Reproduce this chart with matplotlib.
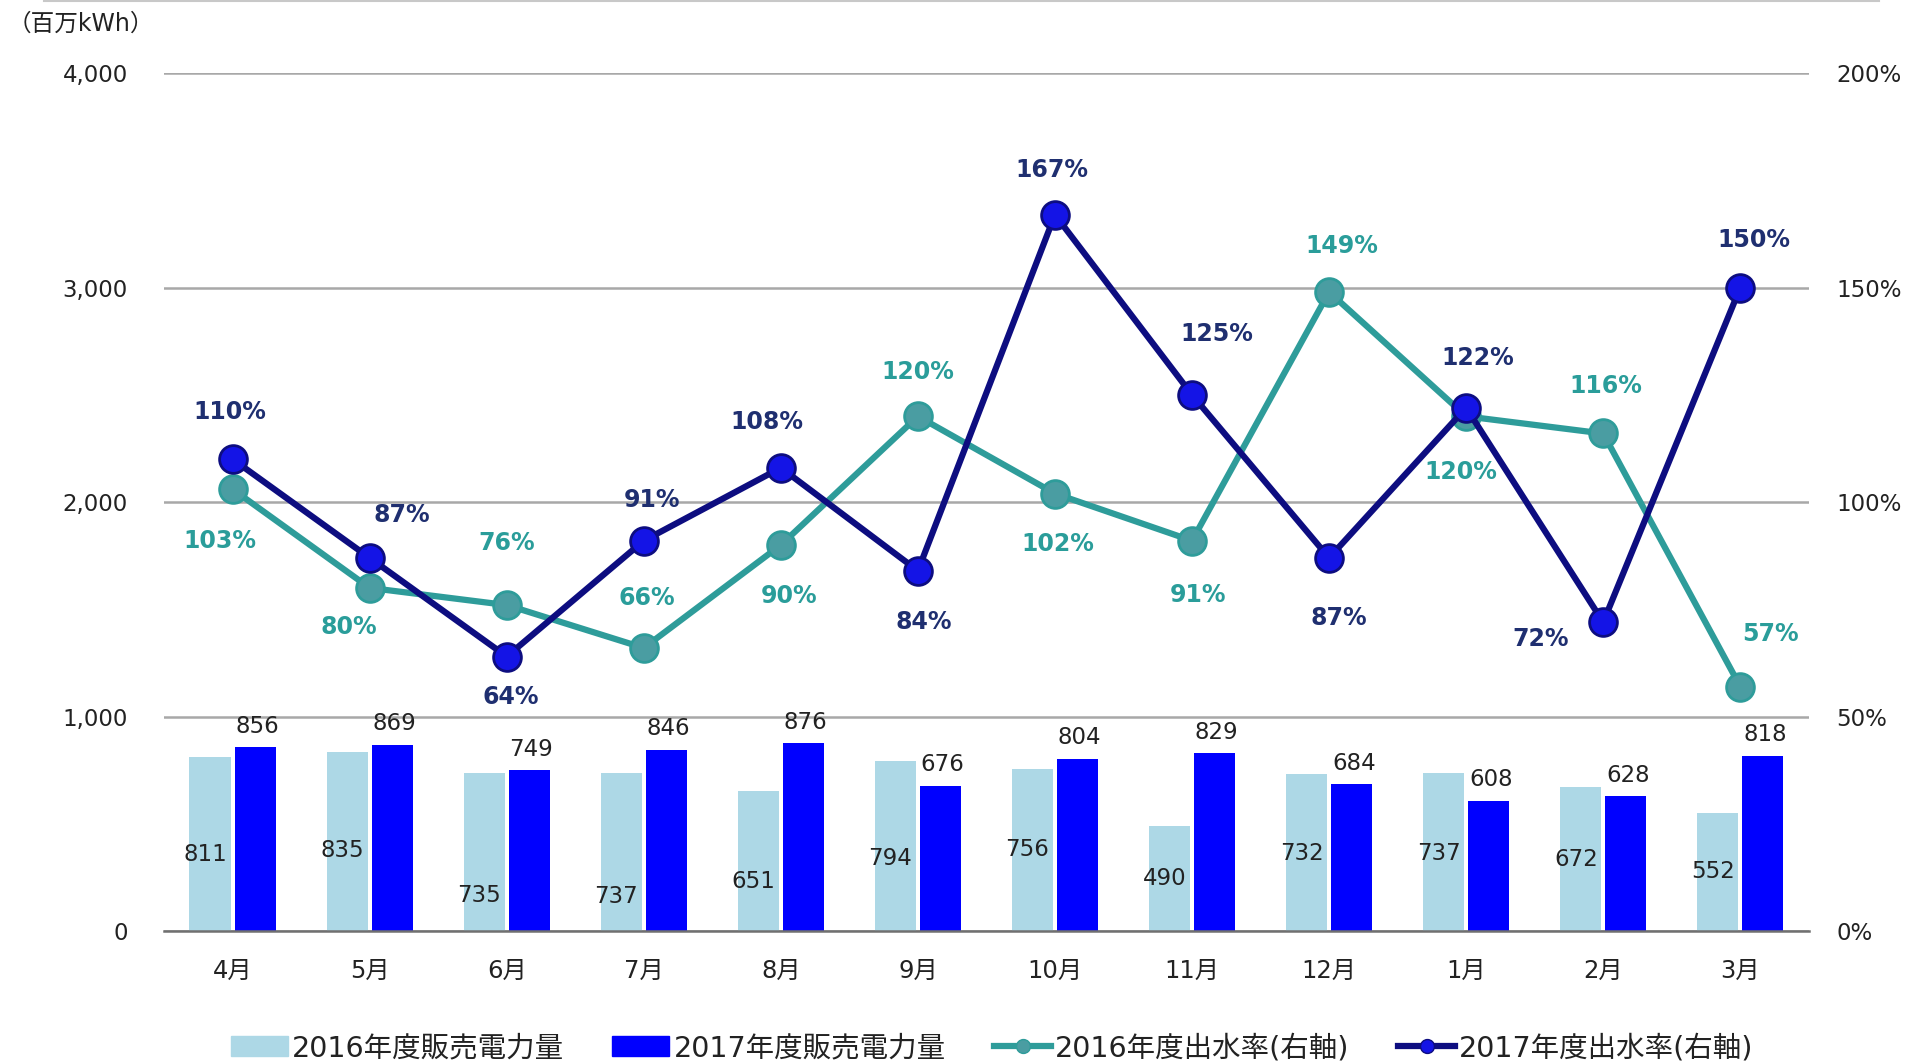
import matplotlib.pyplot as plt
from matplotlib.lines import Line2D

plt.rcParams["font.family"] = ["DejaVu Sans", "Noto Sans CJK JP"]

months = ["4月", "5月", "6月", "7月", "8月", "9月", "10月", "11月", "12月", "1月", "2月", "3月"]
sales_2016 = [811, 835, 735, 737, 651, 794, 756, 490, 732, 737, 672, 552]
sales_2017 = [856, 869, 749, 846, 876, 676, 804, 829, 684, 608, 628, 818]
rate_2016 = [103, 80, 76, 66, 90, 120, 102, 91, 149, 120, 116, 57]
rate_2017 = [110, 87, 64, 91, 108, 84, 167, 125, 87, 122, 72, 150]

# label placement (offset points / label height)
lbl_y_2016 = [357, 375, 165, 159, 232, 340, 380, 244, 363, 363, 335, 278]
off_2016 = [(-9, -37), (-15, -28), (0, 45), (2, 36), (6, -37), (0, 32),
            (2, -36), (4, -39), (9, 33), (-4, -40), (2, 34), (22, 38)]
off_2017 = [(-2, 34), (23, 31), (3, -29), (6, 29), (-10, 33), (4, -37),
            (-2, 32), (18, 44), (7, -43), (8, 36), (-45, -12), (10, 34)]

c_light = "#ADD8E6"
c_blue = "#0000FF"
c_teal = "#2E9C9A"
c_navy = "#0D0D80"

fig = plt.figure(figsize=(19.08, 10.61), dpi=100)
ax = fig.add_axes([0.086, 0.1225, 0.862, 0.8085])
ax2 = ax.twinx()

x = range(len(months))
w = 0.3
ax.bar([i - 0.165 for i in x], sales_2016, w, color=c_light, zorder=2)
ax.bar([i + 0.165 for i in x], sales_2017, w, color=c_blue, zorder=2)

for i in x:
    ax.text(i - 0.2, lbl_y_2016[i], f"{sales_2016[i]}", ha="center", va="center",
            fontsize=16.5, color="#222222", zorder=3)
    ax.text(i + 0.18, sales_2017[i] + 45, f"{sales_2017[i]}", ha="center", va="bottom",
            fontsize=16.5, color="#222222", zorder=3)

ax.set_ylim(0, 4000)
ax.set_xlim(-0.5, 11.5)
ax.set_yticks([0, 1000, 2000, 3000, 4000])
ax.set_yticklabels(["0", "1,000", "2,000", "3,000", "4,000"])
ax.set_xticks(list(x))
ax.set_xticklabels(months)
ax.grid(axis="y", color="#A8A8A8", linewidth=1.8, zorder=0)
ax.set_axisbelow(True)
for s in ["top", "right", "left"]:
    ax.spines[s].set_visible(False)
ax.spines["bottom"].set_color("#707070")
ax.spines["bottom"].set_linewidth(1.8)
ax.tick_params(axis="y", length=0, pad=26, labelsize=16.5, labelcolor="#222222")
ax.tick_params(axis="x", length=0, pad=20, labelsize=17.5, labelcolor="#222222")

ax2.plot(x, rate_2016, color=c_teal, linewidth=4.5, marker="o", markersize=20,
         markerfacecolor="#4A9DA2", markeredgecolor=c_teal, markeredgewidth=2, zorder=4)
ax2.plot(x, rate_2017, color=c_navy, linewidth=4.5, marker="o", markersize=20,
         markerfacecolor="#1414E6", markeredgecolor=c_navy, markeredgewidth=2, zorder=5)

for i in x:
    ax2.annotate(f"{rate_2016[i]}%", (i, rate_2016[i]), xytext=off_2016[i],
                 textcoords="offset points", ha="center", va="center",
                 fontsize=17, fontweight="bold", color="#2A9D9A", zorder=6)
    ax2.annotate(f"{rate_2017[i]}%", (i, rate_2017[i]), xytext=off_2017[i],
                 textcoords="offset points", ha="center", va="center",
                 fontsize=17, fontweight="bold", color="#1F2F70", zorder=6)

ax2.set_ylim(0, 200)
ax2.set_yticks([0, 50, 100, 150, 200])
ax2.set_yticklabels(["0%", "50%", "100%", "150%", "200%"])
for s in ["top", "right", "left", "bottom"]:
    ax2.spines[s].set_visible(False)
ax2.tick_params(axis="y", length=0, pad=20, labelsize=16.5, labelcolor="#222222")

fig.text(0.004, 0.978, "（百万kWh）", fontsize=17, color="#222222", va="center", ha="left")
fig.add_artist(Line2D([0.023, 0.985], [0.999, 0.999], color="#C8C8C8", linewidth=1.5))

handles = [
    plt.Rectangle((0, 0), 1, 1, color=c_light),
    plt.Rectangle((0, 0), 1, 1, color=c_blue),
    Line2D([0], [0], color=c_teal, linewidth=4.5, marker="o", markersize=10,
           markerfacecolor="#4A9DA2", markeredgecolor=c_teal),
    Line2D([0], [0], color=c_navy, linewidth=4.5, marker="o", markersize=10,
           markerfacecolor="#1414E6", markeredgecolor=c_navy),
]
labels = ["2016年度販売電力量", "2017年度販売電力量", "2016年度出水率(右軸)", "2017年度出水率(右軸)"]
fig.legend(handles, labels, loc="center", bbox_to_anchor=(0.52, 0.012), ncol=4,
           frameon=False, fontsize=20.5, handlelength=2.0, handleheight=0.7,
           handletextpad=0.15, columnspacing=1.7, labelcolor="#222222")

fig.savefig("out.png", dpi=100)
